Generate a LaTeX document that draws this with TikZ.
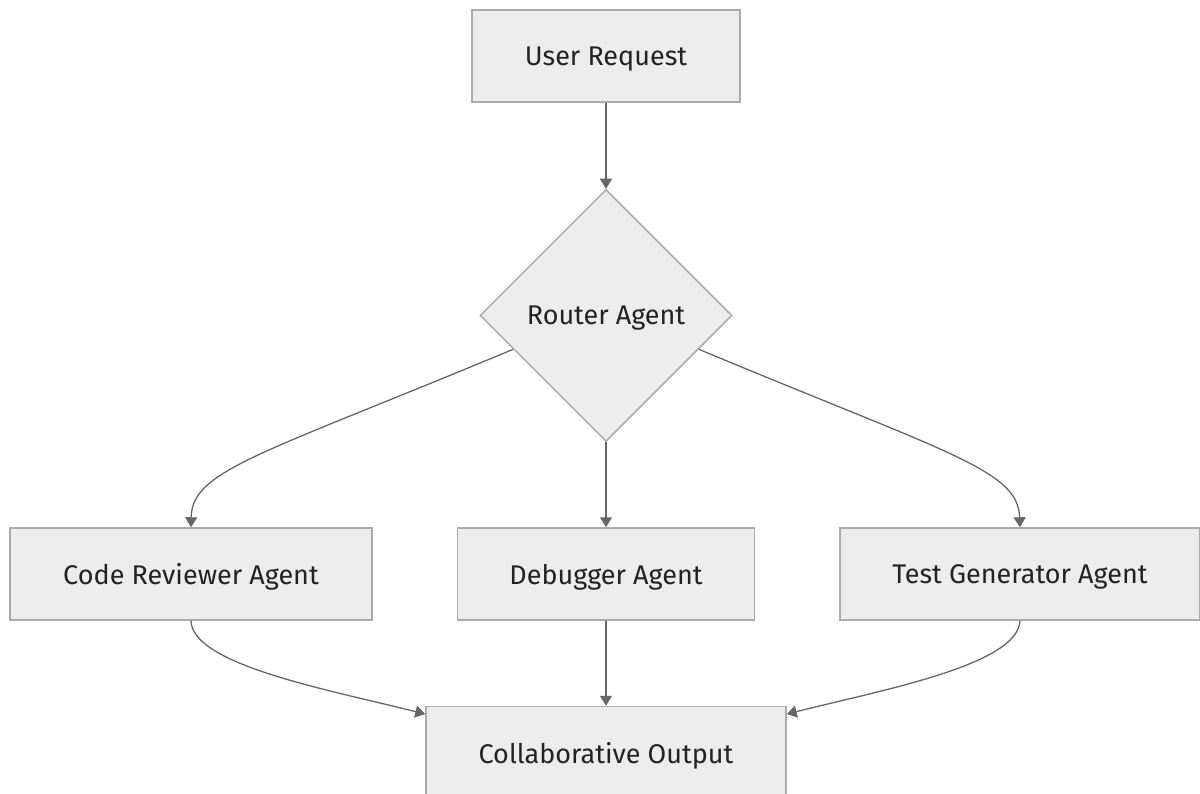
\documentclass[tikz,border=0pt]{standalone}
\usepackage{fontspec}
\setmainfont{Fira Sans}
\usepackage{tikz}
\usetikzlibrary{positioning, shapes.geometric, arrows.meta}
\definecolor{boxfill}{HTML}{ECECEC}
\definecolor{boxline}{HTML}{ABABAB}
\definecolor{edgeline}{HTML}{666666}
\definecolor{labeltext}{HTML}{222222}

\begin{document}
\begin{tikzpicture}[x = 1pt, y = 1pt, node distance = 85pt, font = \fontsize{27}{32}\selectfont,
		block/.style = {rectangle, draw = boxline, fill = boxfill, line width = 1.5pt, text = labeltext, minimum height = 92pt, inner sep = 0pt, text depth = 0pt},
		decision/.style = {diamond, draw = boxline, fill = boxfill, line width = 1.5pt, text = labeltext, minimum size = 252pt, inner sep = 0pt, text depth = 0pt},
		line/.style = {draw = edgeline, line width = 1.3pt, -{Triangle[length = 10pt, width = 12pt]}}]
			\clip (0, 0) rectangle (1200, -794);
			\node [block, minimum width = 268pt] (request) at (606, -56) {User Request};
			\node [decision, below = 86pt of request] (router) {Router Agent};
			\node [block, minimum width = 297pt, below = 85pt of router] (debugger) {Debugger Agent};
			\node [block, minimum width = 362pt, left = 84pt of debugger] (reviewer) {Code Reviewer Agent};
			\node [block, minimum width = 360pt, right = 84pt of debugger] (tester) {Test Generator Agent};
			\node [block, minimum width = 360pt, below = 85pt of debugger] (output) {Collaborative Output};
			
			
			\path [line] (request) -- (router);
			\path [line] (router) -- (debugger);
			\path [line] (router.200) .. controls (260, -455) and (192, -470) .. (reviewer.north);
			\path [line] (router.-20) .. controls (952, -455) and (1018, -470) .. (tester.north);
			\path [line] (debugger) -- (output);
			\path [line] (reviewer.south) .. controls (192, -665) and (330, -690) .. (output.168);
			\path [line] (tester.south) .. controls (1018, -665) and (882, -690) .. (output.12);
		\end{tikzpicture}
\end{document}
